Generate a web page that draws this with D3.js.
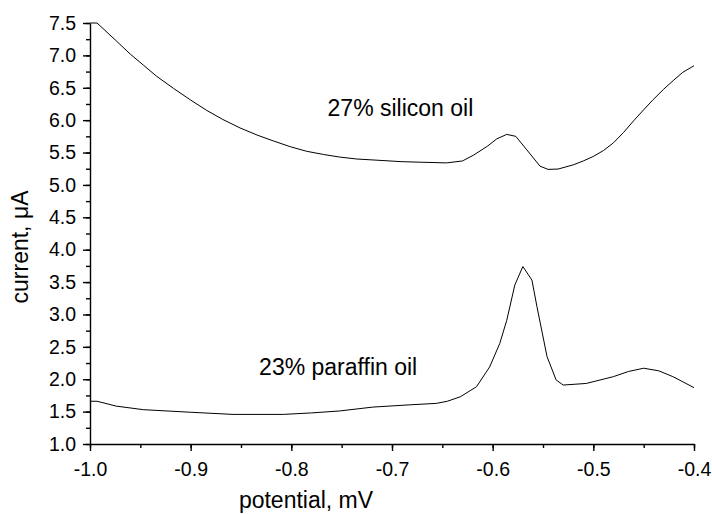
<!DOCTYPE html>
<html>
<head>
<meta charset="utf-8">
<script src="https://cdn.jsdelivr.net/npm/d3@7"></script>
<style>
  body { margin: 0; background: #fff; }
  text { font-family: "Liberation Sans", Arial, sans-serif; fill: #000; }
</style>
</head>
<body>
<div class="chart"></div>
<script>
// data
const siliconX = [-1.0, -0.993, -0.975, -0.960, -0.947, -0.934, -0.917, -0.900, -0.884, -0.868,
  -0.851, -0.834, -0.818, -0.801, -0.785, -0.768, -0.752, -0.735, -0.702, -0.692, -0.670,
  -0.646, -0.630, -0.619, -0.605, -0.596, -0.586, -0.577, -0.566, -0.553, -0.545, -0.535,
  -0.520, -0.510, -0.500, -0.490, -0.480, -0.470, -0.460, -0.450, -0.441, -0.430, -0.420,
  -0.411, -0.400];
const siliconY = [7.5, 7.5, 7.24, 7.02, 6.85, 6.68, 6.49, 6.31, 6.15, 6.01,
  5.88, 5.77, 5.68, 5.59, 5.52, 5.47, 5.43, 5.40, 5.37, 5.36, 5.35,
  5.34, 5.37, 5.46, 5.60, 5.71, 5.78, 5.75, 5.54, 5.29, 5.24, 5.245,
  5.31, 5.37, 5.44, 5.53, 5.65, 5.81, 5.99, 6.16, 6.31, 6.48, 6.62,
  6.74, 6.84];

const paraffinX = [-1.0, -0.993, -0.974, -0.947, -0.900, -0.858, -0.808, -0.780, -0.752, -0.719,
  -0.682, -0.656, -0.645, -0.632, -0.616, -0.603, -0.593, -0.586, -0.578, -0.570, -0.561,
  -0.556, -0.546, -0.537, -0.530, -0.507, -0.480, -0.465, -0.450, -0.435, -0.421, -0.400];
const paraffinY = [1.66, 1.66, 1.585, 1.53, 1.49, 1.457, 1.457, 1.48, 1.51, 1.57,
  1.605, 1.627, 1.66, 1.73, 1.885, 2.19, 2.55, 2.91, 3.455, 3.74, 3.53,
  3.12, 2.35, 1.99, 1.91, 1.935, 2.04, 2.12, 2.17, 2.13, 2.04, 1.87];

const xTicks = [-1.0, -0.9, -0.8, -0.7, -0.6, -0.5, -0.4];
const yTicks = [1.0, 1.5, 2.0, 2.5, 3.0, 3.5, 4.0, 4.5, 5.0, 5.5, 6.0, 6.5, 7.0, 7.5];

const labels = [
  { text: "27% silicon oil", x: -0.764, y: 6.06 },
  { text: "23% paraffin oil", x: -0.832, y: 2.06 }
];

let margin = { top: 23, right: 18, bottom: 70, left: 90 };
let width = 712 - margin.left - margin.right;
let height = 514 - margin.top - margin.bottom;

let svg = d3.select('.chart')
  .append('svg')
    .attr('width', 712)
    .attr('height', 514)
  .append('g')
    .attr('transform', `translate(${margin.left}, ${margin.top})`);

let x = d3.scaleLinear().domain([-1.0, -0.4]).range([0, width]);
let y = d3.scaleLinear().domain([1.0, 7.5]).range([height, 0]);

let fmt = d => d.toFixed(1);

// minor ticks first, then major ones with labels
svg.append('g')
  .attr('transform', `translate(0, ${height})`)
  .call(d3.axisBottom(x).tickValues(d3.range(-1.0, -0.399, 0.05)).tickSize(4).tickFormat(''))
  .call(g => g.select('.domain').remove());
svg.append('g')
  .call(d3.axisLeft(y).tickValues(d3.range(1.0, 7.501, 0.25)).tickSize(4).tickFormat(''))
  .call(g => g.select('.domain').remove());

let xAxis = svg.append('g')
  .attr('transform', `translate(0, ${height})`)
  .call(d3.axisBottom(x).tickValues(xTicks).tickSize(7).tickSizeOuter(0).tickPadding(8).tickFormat(fmt));
xAxis.selectAll('text').style('font-size', '19.5px').attr('dy', '0.85em');

let yAxis = svg.append('g')
  .call(d3.axisLeft(y).tickValues(yTicks).tickSize(7).tickSizeOuter(0).tickPadding(7).tickFormat(fmt));
yAxis.selectAll('text').style('font-size', '19.5px');

svg.selectAll('.domain, .tick line').style('stroke', '#000').style('stroke-width', 1.4);

let line = d3.line()
  .x(d => x(d[0]))
  .y(d => y(d[1]));

svg.append('path')
  .datum(siliconX.map((v, i) => [v, siliconY[i]]))
  .attr('d', line)
  .style('fill', 'none')
  .style('stroke', '#000')
  .style('stroke-width', 1);

svg.append('path')
  .datum(paraffinX.map((v, i) => [v, paraffinY[i]]))
  .attr('d', line)
  .style('fill', 'none')
  .style('stroke', '#000')
  .style('stroke-width', 1);

svg.selectAll('.curve-label')
  .data(labels)
  .enter()
  .append('text')
    .attr('class', 'curve-label')
    .attr('x', d => x(d.x))
    .attr('y', d => y(d.y))
    .style('font-size', '23px')
    .text(d => d.text);

// axis titles
svg.append('text')
  .attr('x', 216)
  .attr('y', height + 64)
  .attr('text-anchor', 'middle')
  .style('font-size', '23px')
  .text('potential, mV');

svg.append('text')
  .attr('transform', `translate(${28 - margin.left}, ${247 - margin.top}) rotate(-90)`)
  .attr('text-anchor', 'middle')
  .style('font-size', '23px')
  .text('current, μA');
</script>
</body>
</html>
